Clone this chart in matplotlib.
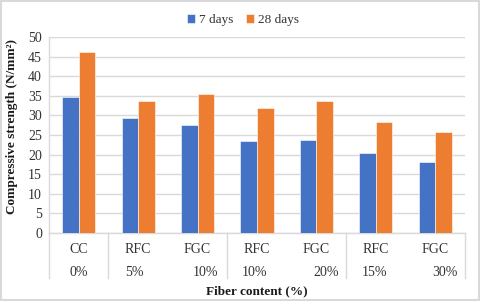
import matplotlib.pyplot as plt
import numpy as np
from matplotlib.patches import Rectangle

plt.rcParams['font.family'] = ['Liberation Serif', 'DejaVu Serif']

# data
mixes = ['CC', 'RFC', 'FGC', 'RFC', 'FGC', 'RFC', 'FGC']
contents = ['0%', '5%', '10%', '10%', '20%', '15%', '30%']
days7 = [34.8, 29.4, 27.6, 23.5, 23.8, 20.3, 18.0]
days28 = [46.2, 33.7, 35.4, 32.0, 33.8, 28.2, 25.7]
# percent labels sit a bit off-centre in the original
pct_shift = [0.0, -0.07, 0.14, -0.05, 0.17, -0.03, 0.17]
separators = [-0.5, 0.5, 2.5, 4.5, 6.5]

blue = '#4472C4'
orange = '#ED7D31'
grid = '#D9D9D9'
txt = '#333333'

fig = plt.figure(figsize=(4.8, 3.01), dpi=100)
ax = fig.add_axes([49 / 480, 1 - 233 / 301, 416 / 480, 196 / 301])

x = np.arange(len(mixes))
w = 0.28
ax.bar(x - w / 2, days7, w, color=blue, edgecolor='white', linewidth=0.4, label='7 days', zorder=3)
ax.bar(x + w / 2, days28, w, color=orange, edgecolor='white', linewidth=0.4, label='28 days', zorder=3)

ax.set_xlim(-0.5, 6.5)
ax.set_ylim(0, 50)
ax.set_yticks(np.arange(0, 51, 5))
ax.yaxis.grid(True, color=grid, linewidth=1.0, zorder=0)
ax.tick_params(axis='y', length=0, labelsize=10, pad=5, colors=txt)
ax.tick_params(axis='x', length=0, labelbottom=False)
for s in ['top', 'right']:
    ax.spines[s].set_visible(False)
for s in ['left', 'bottom']:
    ax.spines[s].set_color(grid)
    ax.spines[s].set_linewidth(1.0)

# two-row category labels with group separators
for i in range(len(mixes)):
    ax.text(i, -0.082, mixes[i], transform=ax.get_xaxis_transform(),
            ha='center', va='center', fontsize=10, color=txt)
    ax.text(i + pct_shift[i], -0.203, contents[i], transform=ax.get_xaxis_transform(),
            ha='center', va='center', fontsize=10, color=txt)
for sx in separators:
    ax.plot([sx, sx], [0, -0.23], transform=ax.get_xaxis_transform(),
            color=grid, linewidth=1.0, clip_on=False)

fig.text(12 / 480, 1 - 127 / 301, 'Compressive strength (N/mm²)', rotation=90,
         ha='center', va='center', fontsize=9.5, fontweight='bold', color='#1a1a1a')
fig.text(257 / 480, 1 - 291 / 301, 'Fiber content (%)', ha='center', va='center',
         fontsize=9.5, fontweight='bold', color='#1a1a1a')

ax.legend(loc='center', bbox_to_anchor=(243 / 480, 1 - 20 / 301), bbox_transform=fig.transFigure,
          ncol=2, frameon=False, fontsize=9.5, handlelength=0.6, handleheight=0.6,
          handletextpad=0.3, columnspacing=1.0, labelcolor=txt)

fig.patches.append(Rectangle((0.002, 0.003), 0.996, 0.994, transform=fig.transFigure,
                             fill=False, edgecolor='#D9D9D9', linewidth=1.5))

fig.savefig('out.png', dpi=100)
